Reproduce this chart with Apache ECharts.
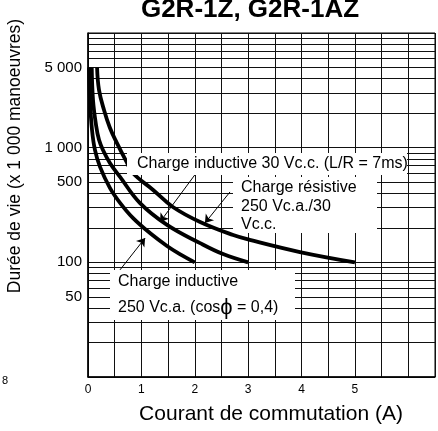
<!DOCTYPE html>
<html><head><meta charset="utf-8">
<script src="https://cdn.jsdelivr.net/npm/echarts@6/dist/echarts.min.js"></script>
<style>html,body{margin:0;padding:0;background:#fff}#c{width:438px;height:431px}</style>
</head><body><div id="c"></div>
<script>
// Courbe: Charge inductive 250 Vc.a. (cos phi = 0,4)
const currentInductiveAC = [0.02, 0.037, 0.075, 0.13, 0.225, 0.41, 0.60, 0.84, 1.16, 1.48, 1.72, 2.0];
const lifeInductiveAC    = [5000, 2600, 1430, 955, 680, 446, 330, 244, 180, 139, 118, 100];
// Courbe: Charge inductive 30 Vc.c. (L/R = 7ms)
const currentInductiveDC = [0.07, 0.094, 0.15, 0.206, 0.28, 0.41, 0.60, 0.97, 1.48, 2.10, 2.53, 3.0];
const lifeInductiveDC    = [5000, 2600, 1580, 1170, 955, 736, 556, 330, 212, 147, 118, 100];
// Courbe: Charge résistive 250 Vc.a./30 Vc.c.
const currentResistive = [0.17, 0.206, 0.30, 0.41, 0.54, 0.71, 0.84, 1.22, 1.59, 2.10, 2.72, 3.03, 3.97, 5.0];
const lifeResistive    = [5000, 3190, 2130, 1490, 1100, 770, 601, 428, 304, 225, 173, 157, 123, 100];

const xTickLabels = [0, 1, 2, 3, 4, 5];
const yTickLabels = [50, 100, 500, 1000, 5000];

// Arrow annotations: [fromCurrent, fromLife, toCurrent, toLife]
const arrowInductiveDC = [2.0, 578, 1.35, 225];
const arrowResistive   = [2.66, 411, 2.19, 220];
const arrowInductiveAC = [0.60, 86, 1.07, 163];

const FONT = "'Liberation Sans', Arial, sans-serif";
const zip = (xs, ys) => xs.map((x, i) => [x, ys[i]]);
const arrow = a => [{coord: [a[0], a[1]]}, {coord: [a[2], a[3]]}];

const curveStyle = {color: '#000', width: 3.8};
const gridLine = {color: '#111', width: 1};

const chart = echarts.init(document.getElementById('c'), null, {renderer: 'canvas'});
chart.setOption({
  animation: false,
  backgroundColor: '#fff',
  grid: {left: 88, right: 3, top: 33, bottom: 54, show: true, borderColor: '#000', borderWidth: 1},
  xAxis: {
    type: 'value', min: 0, max: 6.5, interval: 0.5,
    axisLine: {show: true, lineStyle: {color: '#000', width: 1.5}},
    axisTick: {show: false},
    splitLine: {show: true, lineStyle: gridLine},
    axisLabel: {
      color: '#000', fontFamily: FONT, fontSize: 12, margin: 7,
      formatter: v => (xTickLabels.indexOf(v) >= 0 ? String(v) : '')
    }
  },
  yAxis: {
    type: 'log', logBase: 10, min: 10, max: 10000,
    axisLine: {show: true, lineStyle: {color: '#000', width: 1.5}},
    axisTick: {show: false},
    splitLine: {show: true, lineStyle: gridLine},
    minorTick: {show: false, splitNumber: 9},
    minorSplitLine: {show: true, lineStyle: gridLine},
    axisLabel: {
      color: '#000', fontFamily: FONT, fontSize: 15, margin: 6,
      customValues: yTickLabels,
      formatter: v => (v >= 1000 ? (v / 1000) + ' 000' : String(v))
    }
  },
  series: [
    {type: 'line', data: zip(currentInductiveAC, lifeInductiveAC), smooth: 0.4, showSymbol: false, lineStyle: curveStyle, z: 5},
    {type: 'line', data: zip(currentInductiveDC, lifeInductiveDC), smooth: 0.4, showSymbol: false, lineStyle: curveStyle, z: 5},
    {type: 'line', data: zip(currentResistive, lifeResistive), smooth: 0.4, showSymbol: false, lineStyle: curveStyle, z: 5,
     markLine: {
       silent: true, animation: false,
       symbol: ['none', 'arrow'], symbolSize: 8,
       label: {show: false},
       lineStyle: {color: '#000', width: 1, type: 'solid'},
       data: [arrow(arrowInductiveDC), arrow(arrowResistive), arrow(arrowInductiveAC)]
     }}
  ],
  graphic: [
    {type: 'text', x: 250, y: 23, z: 100,
     style: {text: 'G2R-1Z, G2R-1AZ', font: 'bold 26px ' + FONT, fill: '#000', textAlign: 'center', textVerticalAlign: 'bottom'}},
    {type: 'text', x: 271, y: 414, z: 100,
     style: {text: 'Courant de commutation (A)', font: '21px ' + FONT, fill: '#000', textAlign: 'center', textVerticalAlign: 'middle'}},
    {type: 'text', x: 15, y: 156, rotation: Math.PI / 2, z: 100,
     style: {text: 'Durée de vie (x 1 000 manoeuvres)', font: '17.5px ' + FONT, fill: '#000', textAlign: 'center', textVerticalAlign: 'middle'}},
    {type: 'text', x: 2, y: 381, z: 100,
     style: {text: '8', font: '11px ' + FONT, fill: '#000', textAlign: 'left', textVerticalAlign: 'middle'}},
    // label 1
    {type: 'rect', z: 100, shape: {x: 127, y: 153, width: 280, height: 22}, style: {fill: '#fff'}},
    {type: 'text', x: 137, y: 164, z: 101,
     style: {text: 'Charge inductive 30 Vc.c. (L/R = 7ms)', font: '16px ' + FONT, fill: '#000', textVerticalAlign: 'middle'}},
    // label 2
    {type: 'rect', z: 100, shape: {x: 233, y: 177, width: 144, height: 56}, style: {fill: '#fff'}},
    {type: 'text', x: 241, y: 187.5, z: 101,
     style: {text: 'Charge résistive', font: '16px ' + FONT, fill: '#000', textVerticalAlign: 'middle'}},
    {type: 'text', x: 241, y: 206.5, z: 101,
     style: {text: '250 Vc.a./30', font: '16px ' + FONT, fill: '#000', textVerticalAlign: 'middle'}},
    {type: 'text', x: 241, y: 225, z: 101,
     style: {text: 'Vc.c.', font: '16px ' + FONT, fill: '#000', textVerticalAlign: 'middle'}},
    // label 3
    {type: 'rect', z: 100, shape: {x: 110, y: 270, width: 185, height: 50}, style: {fill: '#fff'}},
    {type: 'text', x: 118, y: 282, z: 101,
     style: {text: 'Charge inductive', font: '16px ' + FONT, fill: '#000', textVerticalAlign: 'middle'}},
    {type: 'text', x: 118, y: 308, z: 101,
     style: {text: '250 Vc.a. (cos{p|ϕ} = 0,4)', font: '16px ' + FONT, fill: '#000', textVerticalAlign: 'middle',
             rich: {p: {fontSize: 22, fontFamily: FONT, fill: '#000'}}}}
  ]
});
</script>
</body></html>
